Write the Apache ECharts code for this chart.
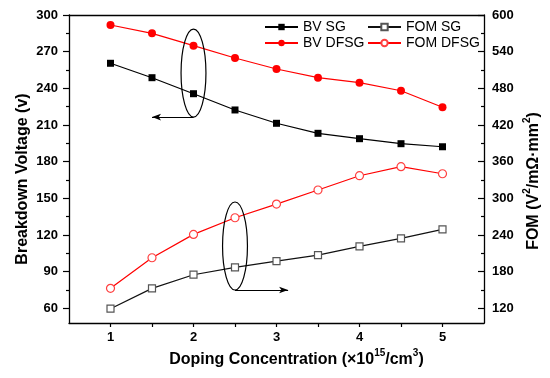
<!DOCTYPE html>
<html>
<head>
<meta charset="utf-8">
<script src="https://cdn.jsdelivr.net/npm/echarts@6/dist/echarts.min.js"></script>
<style>html,body{margin:0;padding:0;background:#fff}#c{width:550px;height:378px}</style>
</head>
<body>
<div id="c"></div>
<script>
const doping = [1, 1.5, 2, 2.5, 3, 3.5, 4, 4.5, 5];
const bvSG   = [260.5, 248.7, 235.6, 222.3, 211.4, 203.2, 198.8, 194.7, 192.2];
const bvDFSG = [291.8, 285.0, 274.9, 264.8, 255.8, 248.7, 244.6, 238.0, 224.5];
const fomSG   = [119.4, 152.7, 175.0, 187.0, 197.4, 207.2, 221.4, 234.4, 249.2];
const fomDFSG = [152.7, 202.8, 241.0, 268.2, 290.6, 313.6, 337.0, 351.8, 340.2];
const xLabels = [1, 2, 3, 4, 5];
const xTicks = [1, 1.5, 2, 2.5, 3, 3.5, 4, 4.5, 5];
const leftLabels = [60, 90, 120, 150, 180, 210, 240, 270, 300];
const leftMinor = [75, 105, 135, 165, 195, 225, 255, 285];
const rightLabels = [120, 180, 240, 300, 360, 420, 480, 540, 600];
const rightMinor = [150, 210, 270, 330, 390, 450, 510, 570];
// annotation ellipses: [x, y(left axis), half-width (x units), half-height (left units)]
const ellipses = [[2, 252.5, 0.15, 36], [2.5, 111, 0.15, 36]];
// annotation arrows: [[x0, y0], [x1, y1]] in data units (left axis)
const arrows = [[[2, 216.5], [1.5, 216.5]], [[2.5, 75], [3.14, 75]]];

const pair = (xs, ys) => xs.map((x, i) => [x, ys[i]]);
const FF = 'Liberation Sans, Arial, sans-serif';
const lblFont = { fontFamily: FF, fontWeight: 'bold', fontSize: 13, color: '#000' };
const nameFont = { fontFamily: FF, fontWeight: 'bold', fontSize: 16, color: '#000' };
const axisLine = { show: true, lineStyle: { color: '#000', width: 1.3 } };
const legendText = { fontFamily: FF, fontSize: 14, color: '#000', lineHeight: 16 };

const chart = echarts.init(document.getElementById('c'), null, { renderer: 'canvas' });
chart.setOption({
  animation: false,
  backgroundColor: '#fff',
  grid: { left: 69, right: 66, top: 15, bottom: 55, outerBoundsMode: 'none', containLabel: false },
  legend: [
    { orient: 'vertical', left: 264, top: 19, padding: 0, itemWidth: 33, itemHeight: 8, itemGap: 0,
      textStyle: legendText, data: ['BV SG', 'BV DFSG'] },
    { orient: 'vertical', left: 367, top: 19, padding: 0, itemWidth: 33, itemHeight: 8, itemGap: 0,
      textStyle: legendText, data: ['FOM SG', 'FOM DFSG'] }
  ],
  xAxis: [
    { type: 'value', min: 0.5, max: 5.5, position: 'bottom',
      name: '{a|Doping Concentration (×10}{s|15}{a|/cm}{s|3}{a|)}',
      nameLocation: 'middle', nameGap: 25, nameMoveOverlap: false,
      nameTextStyle: { padding: [0, 0, 0, 40], rich: {
        a: Object.assign({}, nameFont, { lineHeight: 20, verticalAlign: 'bottom' }),
        s: Object.assign({}, nameFont, { fontSize: 10, lineHeight: 20, verticalAlign: 'top' })
      } },
      axisLine: axisLine,
      axisTick: { show: true, inside: false, length: 4, customValues: xTicks, lineStyle: { color: '#000', width: 1.2 } },
      axisLabel: Object.assign({ customValues: xLabels, margin: 8 }, lblFont),
      splitLine: { show: false } },
    { type: 'value', min: 0.5, max: 5.5, position: 'top',
      axisLine: axisLine, axisTick: { show: false }, axisLabel: { show: false }, splitLine: { show: false } }
  ],
  yAxis: [
    { type: 'value', min: 48, max: 300, position: 'left',
      name: 'Breakdown Voltage (v)', nameLocation: 'middle', nameGap: 38, nameMoveOverlap: false,
      nameTextStyle: Object.assign({ padding: [0, 20, 0, 0] }, nameFont),
      axisLine: axisLine,
      axisTick: { show: true, inside: false, length: 6, customValues: leftLabels, lineStyle: { color: '#000', width: 1.2 } },
      axisLabel: Object.assign({ customValues: leftLabels, margin: 11 }, lblFont),
      splitLine: { show: false } },
    { type: 'value', min: 96, max: 600, position: 'right',
      name: '{a|FOM (V}{s|2}{a|/mΩ·mm}{s|2}{a|)}', nameLocation: 'middle', nameGap: 38, nameMoveOverlap: false,
      nameTextStyle: { padding: [0, 24, 0, 0], rich: {
        a: Object.assign({}, nameFont, { lineHeight: 20, verticalAlign: 'bottom' }),
        s: Object.assign({}, nameFont, { fontSize: 10, lineHeight: 20, verticalAlign: 'top' })
      } },
      axisLine: axisLine,
      axisTick: { show: true, inside: true, length: 6, customValues: rightLabels, lineStyle: { color: '#000', width: 1.2 } },
      axisLabel: Object.assign({ customValues: rightLabels, margin: 8 }, lblFont),
      splitLine: { show: false } },
    { type: 'value', min: 48, max: 300, position: 'left',
      axisLine: { show: false },
      axisTick: { show: true, inside: false, length: 3, customValues: leftMinor, lineStyle: { color: '#000', width: 1.2 } },
      axisLabel: { show: false }, splitLine: { show: false } },
    { type: 'value', min: 96, max: 600, position: 'right',
      axisLine: { show: false },
      axisTick: { show: true, inside: true, length: 3, customValues: rightMinor, lineStyle: { color: '#000', width: 1.2 } },
      axisLabel: { show: false }, splitLine: { show: false } }
  ],
  series: [
    { name: 'BV SG', type: 'line', yAxisIndex: 0, data: pair(doping, bvSG),
      symbol: 'rect', symbolSize: 7, itemStyle: { color: '#000' }, lineStyle: { color: '#000', width: 1.2 } },
    { name: 'BV DFSG', type: 'line', yAxisIndex: 0, data: pair(doping, bvDFSG),
      symbol: 'circle', symbolSize: 8, itemStyle: { color: '#ff0000' }, lineStyle: { color: '#ff0000', width: 1.2 } },
    { name: 'FOM SG', type: 'line', yAxisIndex: 1, data: pair(doping, fomSG),
      symbol: 'rect', symbolSize: 7, itemStyle: { color: '#fff', borderColor: '#555', borderWidth: 1.2 },
      lineStyle: { color: '#111', width: 1.2 } },
    { name: 'FOM DFSG', type: 'line', yAxisIndex: 1, data: pair(doping, fomDFSG),
      symbol: 'circle', symbolSize: 8, itemStyle: { color: '#fff', borderColor: '#ff4040', borderWidth: 1.2 },
      lineStyle: { color: '#ff0000', width: 1.2 } },
    { name: 'annot', type: 'custom', yAxisIndex: 0, clip: false, silent: true, z: 5,
      data: ellipses,
      renderItem: function (params, api) {
        const c = api.coord([api.value(0), api.value(1)]);
        const s = api.size([api.value(2), api.value(3)]);
        return { type: 'ellipse', shape: { cx: c[0], cy: c[1], rx: s[0], ry: s[1] },
          style: { fill: 'none', stroke: '#000', lineWidth: 1.2 } };
      },
      markLine: { silent: true, symbol: ['none', 'arrow'], symbolSize: [5, 9],
        lineStyle: { color: '#000', width: 1.2, type: 'solid' }, label: { show: false },
        data: arrows.map(a => [{ coord: a[0] }, { coord: a[1] }]) } }
  ]
});
</script>
</body>
</html>
